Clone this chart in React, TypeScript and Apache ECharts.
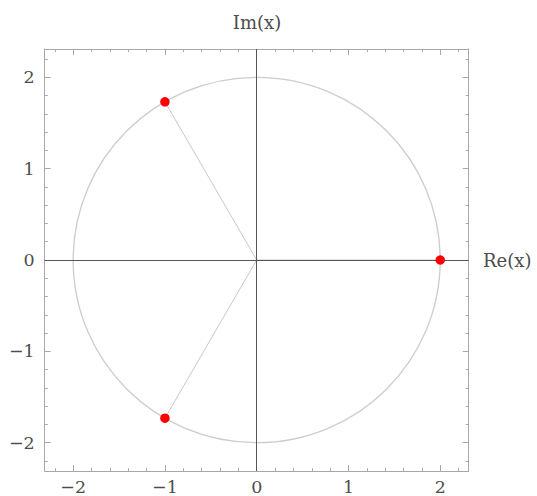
import React, { useEffect, useRef } from "react";
import * as echarts from "echarts";

const majorTicks = [-2, -1, 0, 1, 2];
const minorTicks = [-2.2, -2, -1.8, -1.6, -1.4, -1.2, -1, -0.8, -0.6, -0.4, -0.2, 0, 0.2, 0.4, 0.6, 0.8, 1, 1.2, 1.4, 1.6, 1.8, 2, 2.2];
const roots: [number, number][] = [
  [2, 0],
  [-1, 1.732],
  [-1, -1.732],
];
const circle = [[0, 0, 2]];
const origin: [number, number] = [0, 0];
const axisMin = -2.31;
const axisMax = 2.31;

const FONT = "DejaVu Serif";
const frameColor = "#a8a8a8";
const labelColor = "#4d4d4d";

function fmt(v: number) {
  return String(v).replace("-", "\u2212");
}

function makeAxes(dim: "x" | "y") {
  const positions = dim === "x" ? ["bottom", "top"] : ["left", "right"];
  const axes: any[] = [];
  positions.forEach((pos, pi) => {
    axes.push({
      type: "value",
      position: pos,
      min: axisMin,
      max: axisMax,
      axisLine: { show: true, onZero: false, lineStyle: { color: frameColor, width: 1 } },
      axisTick: {
        show: true,
        inside: true,
        length: 6,
        customValues: majorTicks,
        lineStyle: { color: frameColor, width: 1 },
      },
      axisLabel: {
        show: pi === 0,
        customValues: majorTicks,
        formatter: (v: number) => fmt(v),
        fontFamily: FONT,
        fontSize: 17.5,
        color: labelColor,
        margin: dim === "x" ? 7 : 10,
      },
      splitLine: { show: false },
    });
    axes.push({
      type: "value",
      position: pos,
      min: axisMin,
      max: axisMax,
      axisLine: { show: false, onZero: false },
      axisTick: {
        show: true,
        inside: true,
        length: 3,
        customValues: minorTicks,
        lineStyle: { color: frameColor, width: 1 },
      },
      axisLabel: { show: false },
      splitLine: { show: false },
    });
  });
  return axes;
}

export default function App() {
  const ref = useRef<HTMLDivElement>(null);
  useEffect(() => {
    document.body.style.margin = "0";
    if (!ref.current) return;
    const chart = echarts.init(ref.current, null, { renderer: "svg" });
    const spokes: any[] = [];
    roots.forEach((r, i) => {
      spokes.push({
        type: "line",
        data: [origin, r],
        symbol: "none",
        lineStyle: { color: "#c8c8c8", width: 1 },
        silent: true,
        z: 2,
        markLine:
          i === 0
            ? {
                silent: true,
                symbol: "none",
                label: { show: false },
                lineStyle: { color: "#555555", width: 1, type: "solid" },
                data: [{ xAxis: 0 }, { yAxis: 0 }],
              }
            : undefined,
      });
    });
    chart.setOption({
      animation: false,
      backgroundColor: "#ffffff",
      grid: { left: 44.7, right: 68.3, top: 49, bottom: 23.7 },
      xAxis: makeAxes("x"),
      yAxis: makeAxes("y"),
      graphic: [
        {
          type: "text",
          x: 257,
          y: 22,
          style: {
            text: "Im(x)",
            fontFamily: FONT,
            fontSize: 18,
            fill: labelColor,
            align: "center",
            verticalAlign: "middle",
          },
        },
        {
          type: "text",
          x: 483,
          y: 260,
          style: {
            text: "Re(x)",
            fontFamily: FONT,
            fontSize: 18,
            fill: labelColor,
            align: "left",
            verticalAlign: "middle",
          },
        },
      ],
      series: [
        {
          type: "custom",
          data: circle,
          silent: true,
          z: 1,
          renderItem: (params: any, api: any) => {
            const c = api.coord([api.value(0), api.value(1)]);
            const s = api.size([api.value(2), api.value(2)]);
            return {
              type: "ellipse",
              shape: { cx: c[0], cy: c[1], rx: s[0], ry: s[1] },
              style: { fill: "none", stroke: "#cccccc", lineWidth: 1.3 },
            };
          },
        },
        ...spokes,
        {
          type: "scatter",
          data: roots,
          symbol: "circle",
          symbolSize: 9.5,
          itemStyle: { color: "#ff0000", opacity: 1 },
          z: 5,
        },
      ],
    });
    return () => chart.dispose();
  }, []);
  return <div ref={ref} style={{ width: 537, height: 496 }} />;
}
